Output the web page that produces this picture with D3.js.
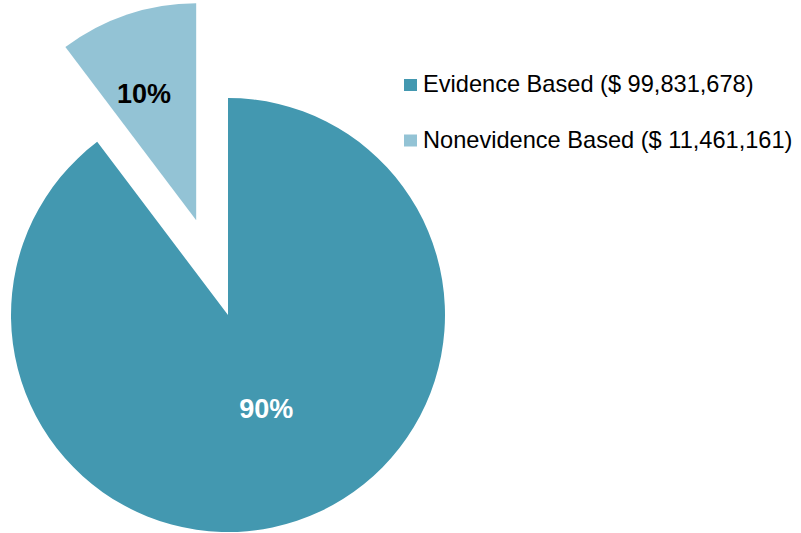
<!DOCTYPE html>
<html>
<head>
<meta charset="utf-8">
<script src="https://cdn.jsdelivr.net/npm/d3@7"></script>
<style>
  body { margin: 0; background: #fff; }
  text { font-family: "Liberation Sans", Arial, sans-serif; }
</style>
</head>
<body>
<div id="chart"></div>
<script>
// Data
var categories = ["Evidence Based", "Nonevidence Based"];
var amounts = [99831678, 11461161];
var colors = ["#4398B0", "#93C3D5"];
var labelColors = ["#ffffff", "#000000"];

var svgWidth = 801;
var svgHeight = 533;
var cx = 228, cy = 315, radius = 217;
var explode = [0, 100];
var labelR = [0.466, 0.634];
var labelTurn = -0.065; // labels sit a little counter-clockwise of the slice middle

var svg = d3.select("#chart")
  .append("svg")
  .attr("width", svgWidth)
  .attr("height", svgHeight);

var data = categories.map(function(c, i) {
  return { name: c, value: amounts[i], color: colors[i], label: labelColors[i], i: i };
});
var total = d3.sum(amounts);

var pie = d3.pie().sort(null).value(d => d.value);
var arc = d3.arc().innerRadius(0).outerRadius(radius);

var slices = svg.append("g")
  .attr("transform", `translate(${cx}, ${cy})`)
  .selectAll("g")
  .data(pie(data))
  .enter()
  .append("g")
  .attr("transform", function(d) {
    var mid = (d.startAngle + d.endAngle) / 2;
    var off = explode[d.data.i];
    return `translate(${Math.sin(mid) * off}, ${-Math.cos(mid) * off})`;
  });

slices.append("path")
  .attr("d", arc)
  .attr("fill", d => d.data.color);

slices.append("text")
  .attr("transform", function(d) {
    var mid = (d.startAngle + d.endAngle) / 2 + labelTurn;
    var r = radius * labelR[d.data.i];
    return `translate(${Math.sin(mid) * r}, ${-Math.cos(mid) * r})`;
  })
  .attr("text-anchor", "middle")
  .attr("dy", "0.36em")
  .attr("font-size", 27)
  .attr("font-weight", "bold")
  .attr("fill", d => d.data.label)
  .text(d => Math.round(d.data.value / total * 100) + "%");

// Legend
var fmt = d3.format(",");
var legend = svg.append("g")
  .selectAll("g")
  .data(data)
  .enter()
  .append("g")
  .attr("transform", (d, i) => `translate(404, ${79 + i * 55.5})`);

legend.append("rect")
  .attr("width", 13)
  .attr("height", 12)
  .attr("fill", d => d.color);

legend.append("text")
  .attr("x", 19)
  .attr("y", 13.3)
  .attr("font-size", 23.6)
  .attr("fill", "#000")
  .text(d => `${d.name} ($ ${fmt(d.value)})`);
</script>
</body>
</html>
